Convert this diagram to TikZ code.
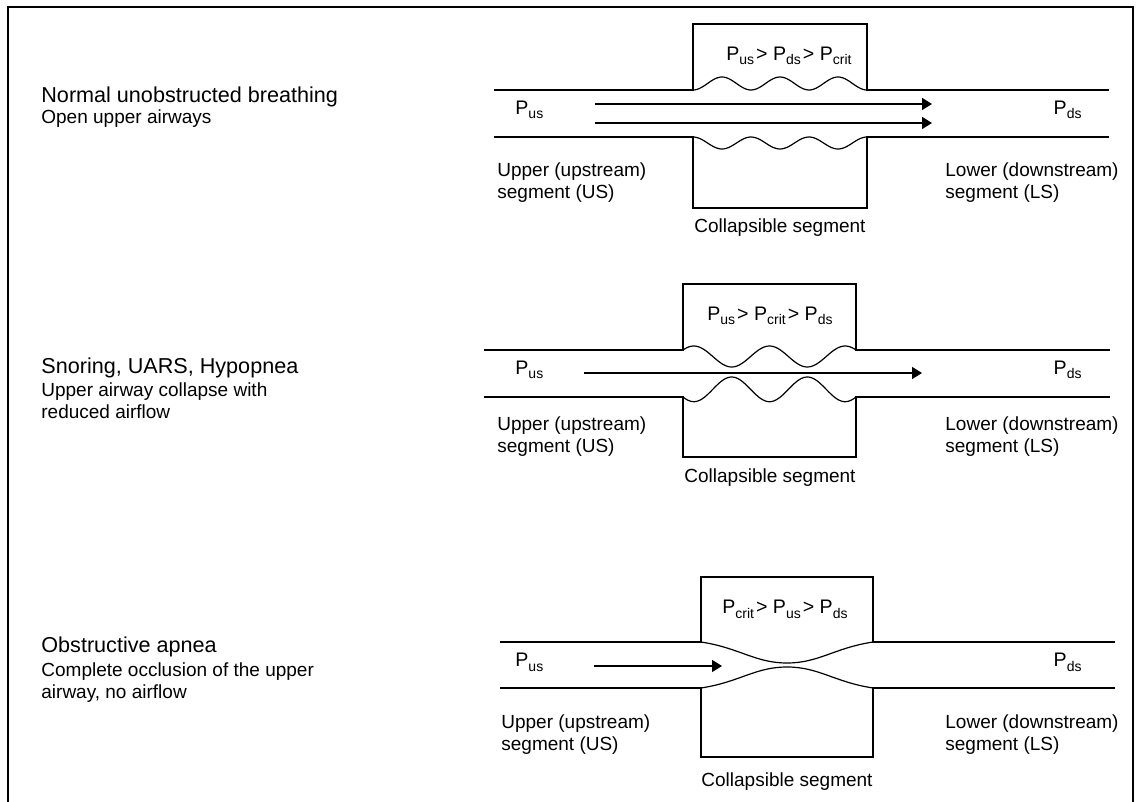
\documentclass[tikz,border=0pt]{standalone}
\usepackage{fontspec}
\setmainfont{Liberation Sans}
\usetikzlibrary{arrows.meta}

\newcommand{\pres}[1]{P\raisebox{-2pt}{\fontsize{7}{7}\selectfont #1}}

\begin{document}
\begin{tikzpicture}[x=0.5pt,y=-0.5pt,
	heading/.style={anchor=base west,inner sep=0pt,font=\fontsize{10.8}{13}\selectfont},
	small/.style={anchor=base west,inner sep=0pt,align=left,font=\fontsize{9.5}{11}\selectfont},
	label/.style={inner sep=0pt,font=\fontsize{9.5}{11}\selectfont},
	press/.style={inner sep=0pt,font=\fontsize{9.8}{11}\selectfont},
	tube/.style={line width=1pt},
	wall/.style={line width=0.6pt},
	flow/.style={line width=0.8pt,-{Triangle[length=5pt,width=6pt]}}]
	\useasboundingbox (0,0) rectangle (1137,802);
	\draw[line width=0.9pt] (8,802) -- (8,7) -- (1133,7) -- (1133,802);

	% Nodes start here (two-line nodes sit on their last line)
	\node (H1) at (41,103) [heading] {Normal unobstructed breathing};
	\node (S1) at (41,124) [small] {Open upper airways};
	\node (H2) at (41,374) [heading] {Snoring, UARS, Hypopnea};
	\node (S2) at (41,419) [small] {Upper airway collapse with\\reduced airflow};
	\node (H3) at (41,653) [heading] {Obstructive apnea};
	\node (S3) at (41,698) [small] {Complete occlusion of the upper\\airway, no airflow};

	\node (Pus1) at (515,115) [press,anchor=base west] {\pres{us}};
	\node (Pds1) at (1082,115) [press,anchor=base east] {\pres{ds}};
	\node (Crit1) at (789,61) [press,anchor=base] {\pres{us}\kern1pt>\ \pres{ds}\kern1pt>\ \pres{crit}};
	\node (US1) at (497,199) [small] {Upper (upstream)\\segment (US)};
	\node (LS1) at (945,199) [small] {Lower (downstream)\\segment (LS)};
	\node (CS1) at (780,233) [label,anchor=base] {Collapsible segment};

	\node (Pus2) at (515,375) [press,anchor=base west] {\pres{us}};
	\node (Pds2) at (1082,375) [press,anchor=base east] {\pres{ds}};
	\node (Crit2) at (770,321) [press,anchor=base] {\pres{us}\kern1pt>\ \pres{crit}\kern1pt>\ \pres{ds}};
	\node (US2) at (497,453) [small] {Upper (upstream)\\segment (US)};
	\node (LS2) at (945,453) [small] {Lower (downstream)\\segment (LS)};
	\node (CS2) at (770,483) [label,anchor=base] {Collapsible segment};

	\node (Pus3) at (515,667) [press,anchor=base west] {\pres{us}};
	\node (Pds3) at (1082,667) [press,anchor=base east] {\pres{ds}};
	\node (Crit3) at (785,614) [press,anchor=base] {\pres{crit}\kern1pt>\ \pres{us}\kern1pt>\ \pres{ds}};
	\node (US3) at (501,750) [small] {Upper (upstream)\\segment (US)};
	\node (LS3) at (945,750) [small] {Lower (downstream)\\segment (LS)};
	\node (CS3) at (787,786) [label,anchor=base] {Collapsible segment};

	\coordinate (A1) at (595,104);
	\coordinate (B1) at (932,104);
	\coordinate (C1) at (595,123);
	\coordinate (D1) at (932,123);
	\coordinate (A2) at (584,373);
	\coordinate (B2) at (922,373);
	\coordinate (A3) at (594,666);
	\coordinate (B3) at (722,666);

	% Tubes start here
	\draw[tube] (494,90) -- (693,90) -- (693,24) -- (867,24) -- (867,90) -- (1109,90);
	\draw[tube] (494,137) -- (693,137) -- (693,208) -- (867,208) -- (867,137) -- (1109,137);
	\draw[wall] plot[domain=0:1,samples=90] ({693+174*\x},{90-6.5*(1-cos(1080*\x))});
	\draw[wall] plot[domain=0:1,samples=90] ({693+174*\x},{137+6*(1-cos(1080*\x))});

	\draw[tube] (484,350) -- (683,350) -- (683,284) -- (856,284) -- (856,350) -- (1110,350);
	\draw[tube] (484,397) -- (683,397) -- (683,457) -- (856,457) -- (856,397) -- (1110,397);
	\draw[wall] plot[domain=-0.0718:1.0718,samples=90] ({683+173*(\x+0.0718)/1.1436},{356.5-10.5*cos(720*\x)});
	\draw[wall] plot[domain=-0.0718:1.0718,samples=90] ({683+173*(\x+0.0718)/1.1436},{389.35+12.35*cos(720*\x)});

	\draw[tube] (500,642) -- (701,642) -- (701,577) -- (873,577) -- (873,642) -- (1115,642);
	\draw[tube] (500,688) -- (701,688) -- (701,757) -- (873,757) -- (873,688) -- (1115,688);
	\draw[wall] (701,642) .. controls (740,648) and (755,663) .. (787,663) .. controls (819,663) and (834,648) .. (873,642);
	\draw[wall] (701,688) .. controls (740,682) and (755,667) .. (787,667) .. controls (819,667) and (834,682) .. (873,688);

	% Lines start here
	\draw[flow] (A1) to (B1);
	\draw[flow] (C1) to (D1);
	\draw[flow] (A2) to (B2);
	\draw[flow] (A3) to (B3);

\end{tikzpicture}
\end{document}
